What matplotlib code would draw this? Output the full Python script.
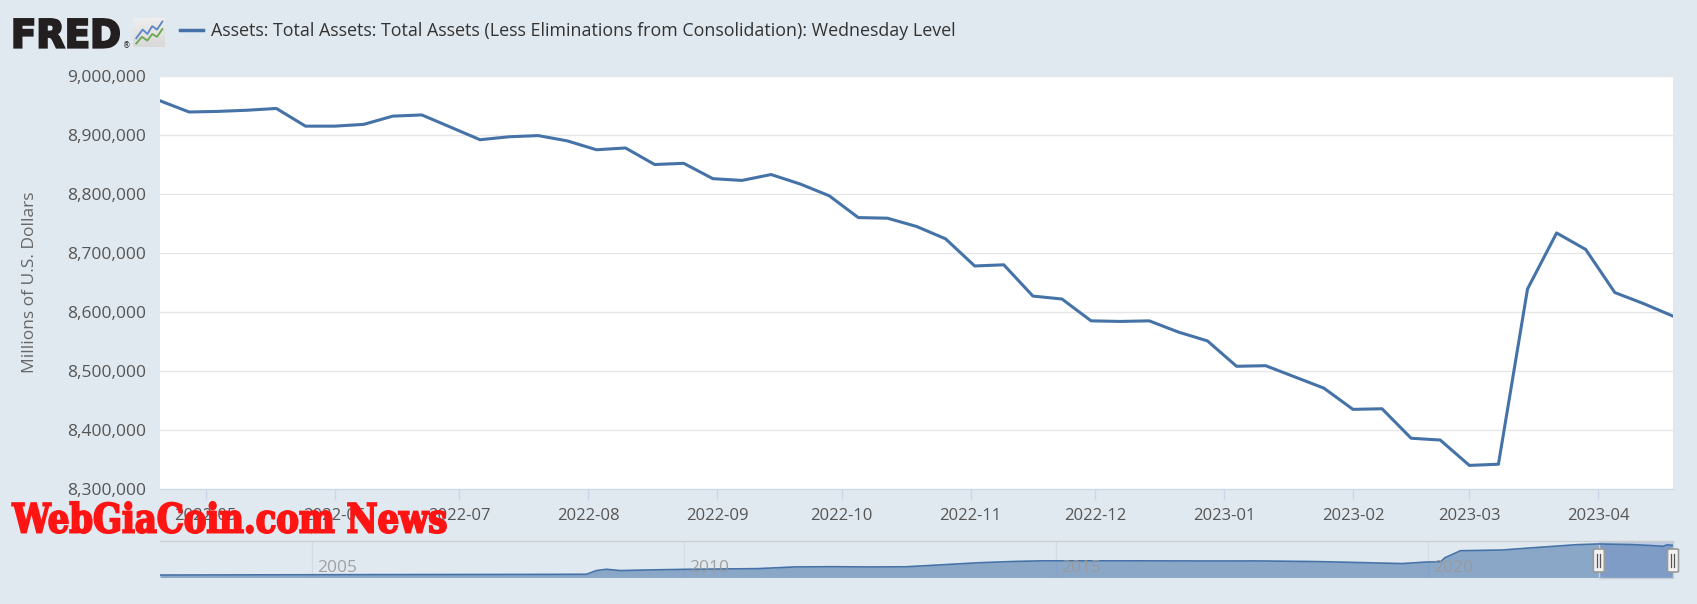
import matplotlib
matplotlib.use("Agg")
import matplotlib.pyplot as plt
import matplotlib.dates as mdates
import matplotlib.ticker as mticker
import matplotlib.transforms as mtransforms
import matplotlib.patheffects as pe
from matplotlib.patches import FancyBboxPatch
from matplotlib.lines import Line2D
import numpy as np
import pandas as pd

# weekly Wednesday levels, millions of US dollars
week_start = "2022-04-20"
assets = [
    8958000, 8939000, 8940000, 8942000, 8945000, 8915000, 8915000, 8918000,
    8932000, 8934000, 8913000, 8892000, 8897000, 8899000, 8890000, 8875000,
    8878000, 8850000, 8852000, 8826000, 8823000, 8833000, 8817000, 8797000,
    8760000, 8759000, 8745000, 8724000, 8678000, 8680000, 8627000, 8622000,
    8585000, 8584000, 8585000, 8566000, 8551000, 8508000, 8509000, 8490000,
    8471000, 8435000, 8436000, 8386000, 8383000, 8340000, 8342000, 8639000,
    8734000, 8706000, 8633000, 8614000, 8593000,
]
weeks = pd.date_range(week_start, periods=len(assets), freq="7D")

# long history shown in the navigator strip
nav_dates = [
    "2002-12-18", "2004-06-30", "2006-06-28", "2007-12-26", "2008-09-10",
    "2008-10-29", "2008-12-17", "2009-02-25", "2009-06-24", "2009-12-30",
    "2010-06-30", "2010-12-29", "2011-06-29", "2011-12-28", "2012-06-27",
    "2012-12-26", "2013-06-26", "2013-12-25", "2014-06-25", "2014-10-29",
    "2015-12-30", "2016-12-28", "2017-09-27", "2018-06-27", "2018-12-26",
    "2019-08-28", "2019-12-25", "2020-03-04", "2020-03-25", "2020-06-10",
    "2020-12-30", "2021-06-30", "2021-12-29", "2022-04-13", "2022-09-28",
    "2022-12-28", "2023-03-01", "2023-03-22", "2023-04-19",
]
nav_values = [
    720000, 780000, 850000, 890000, 925000, 1900000, 2250000, 1900000,
    2050000, 2230000, 2330000, 2420000, 2870000, 2930000, 2870000, 2910000,
    3450000, 4000000, 4350000, 4490000, 4490000, 4450000, 4460000, 4300000,
    4080000, 3760000, 4170000, 4240000, 5300000, 7170000, 7360000, 8070000,
    8760000, 8965000, 8797000, 8551000, 8340000, 8734000, 8593000,
]
nav_years = [2005, 2010, 2015, 2020]

legend_label = ("Assets: Total Assets: Total Assets (Less Eliminations from "
                "Consolidation): Wednesday Level")
y_title = "Millions of U.S. Dollars"
watermark = "WebGiaCoin.com News"

# small decorative logo icon
icon_blue_x = [0.1, 0.3, 0.45, 0.6, 0.75, 0.92]
icon_blue_y = [0.3, 0.6, 0.45, 0.72, 0.6, 0.88]
icon_green_x = [0.1, 0.28, 0.45, 0.6, 0.75, 0.92]
icon_green_y = [0.12, 0.35, 0.22, 0.45, 0.35, 0.62]

BG = "#e1e9f0"
LINE = "#4572a7"
W, H = 1697, 604
FONT = ["Open Sans", "DejaVu Sans"]


def px_box(x0, y0, x1, y1):
    # pixel box (top-left origin) -> figure fraction rect
    return [x0 / W, 1 - y1 / H, (x1 - x0) / W, (y1 - y0) / H]


def fit_width(t, target_px):
    fig.canvas.draw()
    w = t.get_window_extent().width
    t.set_fontsize(t.get_fontsize() * target_px / w)


class Squeeze(pe.AbstractPathEffect):
    """narrow (and optionally embolden) the glyphs, left edge stays put"""

    def __init__(self, text, sx, stroke=0.0):
        super().__init__()
        self.text = text
        self.sx = sx
        self.stroke = stroke

    def draw_path(self, renderer, gc, tpath, affine, rgbFace=None):
        x0 = self.text.get_figure().transFigure.transform(self.text.get_position())[0]
        tr = affine + mtransforms.Affine2D().translate(-x0, 0).scale(self.sx, 1).translate(x0, 0)
        gc0 = renderer.new_gc()
        gc0.copy_properties(gc)
        if self.stroke:
            gc0.set_linewidth(self.stroke)
            gc0.set_foreground(rgbFace)
            gc0.set_joinstyle("miter")
        renderer.draw_path(gc0, tpath, tr, rgbFace)
        gc0.restore()


def squeeze_to(t, target_px, stroke=0.0):
    fig.canvas.draw()
    w = t.get_window_extent().width
    t.set_path_effects([Squeeze(t, target_px / w, stroke)])


fig = plt.figure(figsize=(W / 100, H / 100), dpi=100)
fig.patch.set_facecolor(BG)

# main plot
ax = fig.add_axes(px_box(160, 76, 1673, 489))
ax.set_facecolor("white")
ax.plot(weeks, assets, color=LINE, lw=2.2, solid_joinstyle="round")
ax.set_xlim(weeks[0], weeks[-1])
ax.set_ylim(8300000, 9000000)
ax.yaxis.set_major_locator(mticker.MultipleLocator(100000))
ax.yaxis.set_major_formatter(mticker.FuncFormatter(lambda v, p: f"{v:,.0f}"))
ax.xaxis.set_major_locator(mdates.MonthLocator())
ax.xaxis.set_major_formatter(mdates.DateFormatter("%Y-%m"))
ax.grid(axis="y", color="#e6e6e6", lw=1)
ax.set_axisbelow(True)
for s in ["top", "left", "right"]:
    ax.spines[s].set_visible(False)
ax.spines["bottom"].set_color("#ccd6eb")
ax.tick_params(axis="y", length=0, pad=10, labelsize=12.5, labelcolor="#555555")
ax.tick_params(axis="x", length=8, width=1, color="#ccd6eb", pad=6,
               labelsize=12, labelcolor="#555555")
for lab in ax.get_xticklabels() + ax.get_yticklabels():
    lab.set_family(FONT)

fig.text(30 / W, 1 - 282 / H, y_title, rotation=90, ha="center", va="center",
         fontsize=12.5, color="#666666", family=FONT)

# navigator
nav = fig.add_axes(px_box(160, 541, 1673, 577))
nav.set_facecolor("none")
nav.set_axisbelow(True)
nd = pd.to_datetime(nav_dates)
nav.fill_between(nd, nav_values, 0, color=LINE, alpha=0.55, lw=0)
nav.plot(nd, nav_values, color=LINE, lw=1.2)
nav.set_xlim(nd[0], nd[-1])
nav.set_ylim(200000, 9750000)
nav.set_yticks([])
nav.set_xticks([pd.Timestamp(f"{y}-01-01") for y in nav_years])
nav.set_xticklabels([])
nav.tick_params(axis="x", length=0)
nav.grid(axis="x", color="#d3dce6", lw=1)
for s in ["left", "right", "bottom"]:
    nav.spines[s].set_visible(False)
nav.spines["top"].set_color("#cccccc")
lab_tr = mtransforms.offset_copy(nav.get_xaxis_transform(), fig=fig, x=5, y=0, units="dots")
for y in nav_years:
    nav.text(pd.Timestamp(f"{y}-01-01"), 0.26, str(y), transform=lab_tr,
             ha="left", va="center", fontsize=12.5, color="#999999", alpha=0.9,
             family=FONT)
nav.axvspan(weeks[0], nd[-1], ymin=-0.03, ymax=1.0,
            facecolor=(102 / 255, 133 / 255, 194 / 255, 0.3),
            edgecolor="#c4ccd6", lw=1, clip_on=False)

# navigator handles
for hx in [weeks[0], nd[-1]]:
    hpx = nav.transData.transform((mdates.date2num(hx), 0))[0]
    fx = hpx / W
    box = FancyBboxPatch((fx - 5.5 / W, 1 - 572 / H), 11 / W, 23 / H,
                         boxstyle="round,pad=0,rounding_size=0.0015",
                         transform=fig.transFigure, facecolor="#f2f2f2",
                         edgecolor="#999999", lw=1.2, zorder=5)
    fig.patches.append(box)
    for dx in (-1.5, 1.5):
        fig.lines.append(Line2D([fx + dx / W, fx + dx / W],
                                [1 - 567 / H, 1 - 554 / H],
                                transform=fig.transFigure, color="#555555",
                                lw=0.9, zorder=6))

# header: FRED logo, icon, legend
fred = fig.text(11 / W, 1 - 47.5 / H, "FRED", fontsize=28, fontweight="bold",
                color="#231f20", ha="left", va="baseline",
                family=["DejaVu Sans"])
fig.text(123 / W, 1 - 46 / H, "®", fontsize=5.5, color="#231f20", ha="left",
         va="center")
icon = fig.add_axes(px_box(133, 18, 165, 47))
icon.imshow(np.linspace(0.93, 0.85, 20).reshape(-1, 1) * np.ones((1, 2)),
            cmap="gray", vmin=0, vmax=1, aspect="auto",
            extent=(0, 1, 0, 1), origin="upper")
icon.plot(icon_blue_x, icon_blue_y, color="#5b86c5", lw=1.3)
icon.plot(icon_green_x, icon_green_y, color="#6aa84f", lw=1.3)
icon.set_xlim(0, 1)
icon.set_ylim(0, 1)
icon.set_xticks([])
icon.set_yticks([])
for s in icon.spines.values():
    s.set_visible(False)

fig.lines.append(Line2D([180 / W, 203 / W], [1 - 30 / H, 1 - 30 / H],
                        transform=fig.transFigure, color=LINE, lw=2.5))
leg = fig.text(211 / W, 1 - 31 / H, legend_label, fontsize=12.5,
               color="#333333", ha="left", va="center", family=FONT)

# red watermark
wm = fig.text(12.5 / W, 1 - 532.5 / H, watermark, fontsize=29, fontweight="bold",
              color="#ff1414", ha="left", va="baseline",
              family=["DejaVu Serif", "DejaVu Sans"], zorder=10)

fit_width(leg, 750)
squeeze_to(fred, 110, stroke=1.6)
squeeze_to(wm, 434, stroke=1.4)

fig.savefig("out.png", dpi=100, facecolor=BG)
